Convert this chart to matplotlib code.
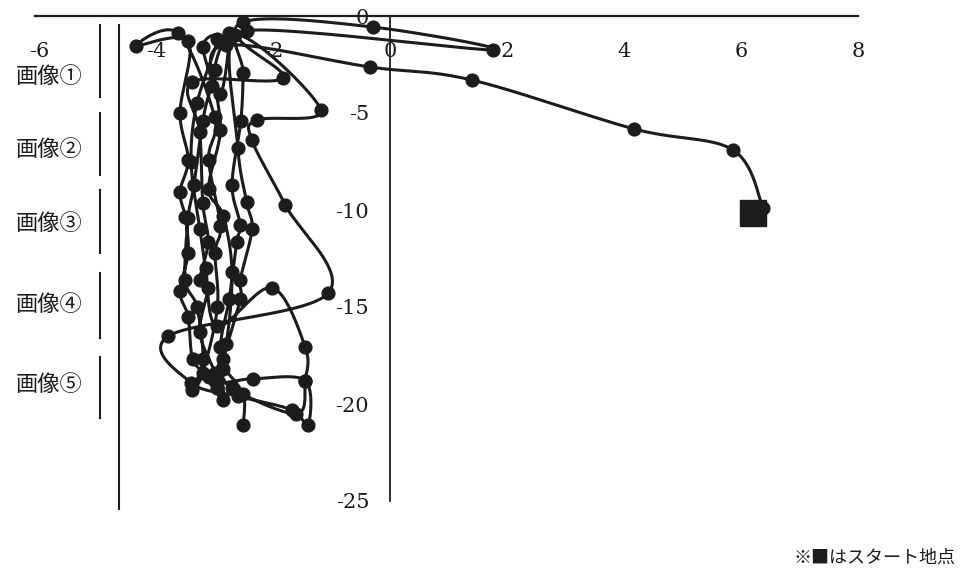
import numpy as np
import matplotlib
matplotlib.use("Agg")
import matplotlib.pyplot as plt

plt.rcParams['font.family'] = ['DejaVu Serif', 'Noto Sans CJK JP']
plt.rcParams['axes.unicode_minus'] = False

# recorded track, first point is the start
track_x = [6.38, 5.86, 4.17, 1.40, -0.34, -2.80, -3.05, -3.20, -3.35, -3.45,
           -3.50, -3.30, -3.20, -3.38, -3.20, -2.95, -2.99, -2.90, -3.10, -3.00,
           -3.62, -4.34, -3.45, -3.59, -3.45, -3.59, -3.50, -3.45, -3.59, -3.45,
           -3.37, -3.10, -2.85, -2.90, -2.75, -2.62, -2.56, -2.70, -2.55, -2.51,
           -2.51, -0.29, 1.76, -2.45, -1.83, -3.38, -3.25, -3.20, -3.11, -3.25,
           -3.11, -3.25, -2.99, -2.95, -2.85, -2.56, -2.56, -2.36, -2.45, -2.60,
           -2.65, -1.18, -2.27, -2.36, -1.79, -1.06, -3.79, -3.40, -2.60, -1.68,
           -1.40, -1.45, -2.34, -3.00, -2.80, -2.70, -2.85, -3.10, -2.90, -3.00,
           -2.75, -2.90, -3.20, -2.95, -3.30, -3.40, -3.25, -3.15, -2.95, -2.02,
           -1.45, -1.45, -1.60, -2.70, -2.85, -2.51, -2.51]
track_y = [-9.92, -6.90, -5.82, -3.30, -2.63, -1.50, -3.60, -5.40, -8.70, -10.40,
           -13.60, -15.00, -17.70, -19.30, -18.40, -15.00, -12.20, -10.80, -7.40, -5.20,
           -0.88, -1.55, -1.30, -5.00, -7.40, -9.07, -10.36, -12.20, -14.20, -15.50,
           -17.70, -18.60, -19.80, -17.06, -14.60, -11.65, -10.77, -8.70, -5.40, -2.94,
           -0.31, -0.57, -1.75, -0.75, -3.20, -3.40, -6.00, -9.64, -11.65, -13.60,
           -14.00, -16.30, -18.40, -19.20, -17.70, -14.60, -13.60, -11.00, -9.60, -6.80,
           -1.00, -4.85, -5.36, -6.40, -9.74, -14.30, -16.50, -18.90, -19.60, -20.30,
           -21.10, -18.80, -18.70, -18.80, -16.90, -13.20, -10.30, -8.90, -5.90, -2.80,
           -0.90, -4.00, -1.60, -1.20, -4.50, -7.50, -11.00, -13.00, -16.00, -14.00,
           -17.06, -18.80, -20.50, -19.20, -18.20, -19.50, -21.10]

x_ticks = [-6, -4, -2, 0, 2, 4, 6, 8]
y_ticks = [0, -5, -10, -15, -20, -25]

# image bands along the y axis
image_names = ['画像①', '画像②', '画像③', '画像④', '画像⑤']
image_top = [-0.46, -5.0, -8.97, -13.25, -17.6]
image_bottom = [-4.18, -8.2, -12.2, -16.6, -20.7]
image_label_y = [-3.10, -6.86, -10.72, -14.85, -18.97]


def smooth(xs, ys, steps=24):
    # cubic bezier through every point (catmull-rom style tangents)
    p = np.column_stack([xs, ys])
    ext = np.vstack([p[0], p, p[-1]])
    t = np.linspace(0, 1, steps)[:, None]
    out = []
    for i in range(len(p) - 1):
        p0, p1, p2, p3 = ext[i], ext[i + 1], ext[i + 2], ext[i + 3]
        c1 = p1 + (p2 - p0) / 6
        c2 = p2 - (p3 - p1) / 6
        seg = ((1 - t) ** 3) * p1 + 3 * ((1 - t) ** 2) * t * c1 \
            + 3 * (1 - t) * t ** 2 * c2 + t ** 3 * p2
        out.append(seg if i == 0 else seg[1:])
    out = np.vstack(out)
    return out[:, 0], out[:, 1]


fig = plt.figure(figsize=(9.67, 5.8), dpi=100)
ax = fig.add_axes([0, 0, 1, 1])
ax.set_xlim(-390 / 58.5, (967 - 390) / 58.5)
ax.set_ylim(-(580 - 16) / 19.4, 16 / 19.4)

ink = '#1c1c1c'
sx, sy = smooth(track_x, track_y)
ax.plot(sx, sy, color=ink, lw=2.2, zorder=3, solid_capstyle='round')
ax.plot(track_x, track_y, 'o', color=ink, ms=9.2, zorder=4)
ax.plot(track_x[0] - 0.17, track_y[0] - 0.22, 's', color=ink, ms=19, zorder=5)

# axes crossing at the origin
for side in ['top', 'right']:
    ax.spines[side].set_visible(False)
ax.spines['bottom'].set_position(('data', 0))
ax.spines['left'].set_position(('data', 0))
ax.spines['bottom'].set_bounds(-6.07, 8.0)
ax.spines['left'].set_bounds(-25, 0)
ax.spines['bottom'].set_linewidth(1.6)
ax.spines['left'].set_linewidth(1.3)
ax.spines['bottom'].set_color(ink)
ax.spines['left'].set_color(ink)

ax.set_xticks(x_ticks, labels=[str(v) for v in x_ticks])
ax.set_yticks(y_ticks, labels=[str(v) for v in y_ticks])
ax.tick_params(axis='x', length=0, pad=19, labelsize=15, labelcolor=ink)
ax.tick_params(axis='y', length=0, pad=15, labelsize=15, labelcolor=ink)

# frame line and image bands on the left
ax.plot([-4.63, -4.63], [-0.46, -25.4], color=ink, lw=1.5, clip_on=False)
for name, top, bottom, ly in zip(image_names, image_top, image_bottom, image_label_y):
    ax.plot([-4.96, -4.96], [top, bottom], color=ink, lw=1.5)
    ax.text(-5.83, ly, name, ha='center', va='center', fontsize=16,
            family=['Noto Sans CJK JP', 'DejaVu Sans'], color=ink)

fig.text(0.988, 1 - 558 / 580, '※■はスタート地点', ha='right', va='center',
         fontsize=13, family=['Noto Sans CJK JP', 'DejaVu Sans'], color=ink)

fig.savefig('out.png', dpi=100, facecolor='white')
